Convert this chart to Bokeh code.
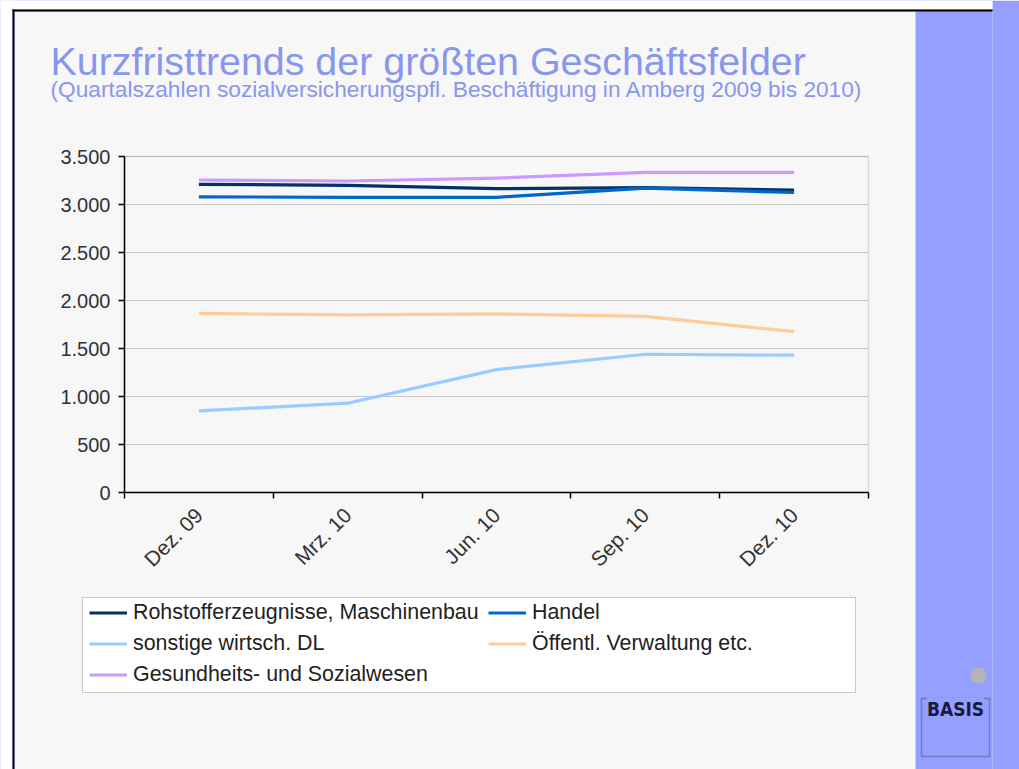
from math import pi
from bokeh.plotting import figure
from bokeh.models import (FactorRange, Range1d, LinearAxis, CategoricalAxis, FixedTicker,
                          Legend, LegendItem, Label, BoxAnnotation)
from bokeh.embed import file_html
from bokeh.resources import INLINE

# ---------------- data ----------------
quarters = ["Dez. 09", "Mrz. 10", "Jun. 10", "Sep. 10", "Dez. 10"]
rohstoff = [3210, 3200, 3165, 3175, 3150]
handel = [3080, 3075, 3075, 3170, 3125]
sonstige = [850, 930, 1280, 1440, 1430]
oeffentl = [1865, 1850, 1860, 1835, 1675]
gesundheit = [3255, 3245, 3275, 3335, 3335]
series_names = ["Rohstofferzeugnisse, Maschinenbau", "Handel", "sonstige wirtsch. DL",
                "Öffentl. Verwaltung etc.", "Gesundheits- und Sozialwesen"]
series_colors = ["#003366", "#0066cc", "#99ccff", "#ffcc99", "#cc99ff"]
y_ticks = [0, 500, 1000, 1500, 2000, 2500, 3000, 3500]
y_tick_labels = ["0", "500", "1.000", "1.500", "2.000", "2.500", "3.000", "3.500"]
title_text = "Kurzfristtrends der größten Geschäftsfelder"
subtitle_text = "(Quartalszahlen sozialversicherungspfl. Beschäftigung in Amberg 2009 bis 2010)"
logo_text = "BASIS"

# ---------------- layout constants (page pixels) ----------------
W, H = 1019, 769
PLOT_L, PLOT_R, PLOT_T, PLOT_B = 124, 868, 156, 492
Y_MAX = 3500
FRAME_W = PLOT_R + PLOT_L          # symmetric category padding
RIGHT_BORDER = W - FRAME_W
FONT = "Liberation Sans"
TITLE_COLOR = "#8896ee"
PANEL_BLUE = "#959fff"
SLIDE_BG = "#f7f7f7"

n_cat = len(quarters)
cat_px = (PLOT_R - PLOT_L) / n_cat
pad_frac = 2 * (PLOT_L / cat_px) / n_cat
y_per_px = Y_MAX / (PLOT_B - PLOT_T)

p = figure(width=W, height=H,
           x_range=FactorRange(factors=quarters, range_padding=pad_frac),
           y_range=Range1d(-(H - PLOT_B) * y_per_px, Y_MAX + PLOT_T * y_per_px),
           x_axis_location=None, y_axis_location="left",
           output_backend="svg", toolbar_location=None,
           min_border_left=0, min_border_top=0, min_border_bottom=0,
           min_border_right=RIGHT_BORDER,
           background_fill_color=PANEL_BLUE, border_fill_color=PANEL_BLUE,
           outline_line_color=None)


def pbox(x0, x1, y0, y1, **kw):
    """box given in page pixels (frame covers the page)"""
    return BoxAnnotation(left=x0, right=x1, top=H - y0, bottom=H - y1,
                         left_units="screen", right_units="screen",
                         top_units="screen", bottom_units="screen", **kw)


# ---------------- slide decorations ----------------
deco = dict(fill_alpha=1, line_alpha=0, level="image")
p.add_layout(pbox(14, 915, 11, H + 5, fill_color=SLIDE_BG, **deco))
p.add_layout(pbox(-5, 12, -5, H + 5, fill_color="white", **deco))
p.add_layout(pbox(-5, W + 5, -5, 9, fill_color="white", **deco))
p.add_layout(pbox(12, 14, 9, H + 5, fill_color="black", **deco))
p.add_layout(pbox(12, W + 5, 9, 11, fill_color="black", **deco))

# legend frame
p.add_layout(pbox(82, 855, 597, 692, fill_color="white", fill_alpha=1,
                  line_color="#555555", line_width=1, level="underlay"))

# plot-area border (top / right in grey)
p.add_layout(BoxAnnotation(left=0, right=n_cat, bottom=0, top=Y_MAX, fill_alpha=0,
                           line_color="#9a9a9a", line_width=1.5, level="underlay"))

# ---------------- axes ----------------
yt = FixedTicker(ticks=y_ticks)
p.yaxis.fixed_location = 0
p.yaxis.bounds = (0, Y_MAX)
p.yaxis.ticker = yt
p.yaxis.major_label_overrides = {t: l for t, l in zip(y_ticks, y_tick_labels)}
p.yaxis.axis_line_color = "black"
p.yaxis.axis_line_width = 1.5
p.yaxis.major_tick_out = 6
p.yaxis.major_tick_in = 0
p.yaxis.major_tick_line_color = "black"
p.yaxis.major_tick_line_width = 1.5
p.yaxis.minor_tick_line_color = None
p.yaxis.major_label_text_font = FONT
p.yaxis.major_label_text_font_size = "20px"
p.yaxis.major_label_text_color = "#333333"
p.yaxis.major_label_standoff = 8

p.xgrid.visible = False
p.ygrid.ticker = yt
p.ygrid.bounds = (0, Y_MAX)
p.ygrid.cross_bounds = (0, n_cat)
p.ygrid.grid_line_color = "#c8c8c8"
p.ygrid.grid_line_width = 1

edge_axis = LinearAxis(fixed_location=0, bounds=(0, n_cat),
                       ticker=FixedTicker(ticks=list(range(n_cat + 1))),
                       major_label_text_font_size="1px", major_label_text_alpha=0,
                       major_label_standoff=0,
                       major_tick_out=6, major_tick_in=0,
                       major_tick_line_color="black", major_tick_line_width=1.5,
                       minor_tick_line_color=None,
                       axis_line_color="black", axis_line_width=1.5)
p.add_layout(edge_axis, "below")
cat_axis = CategoricalAxis(fixed_location=0,
                           axis_line_color=None, major_tick_line_color=None,
                           minor_tick_line_color=None, major_tick_out=6,
                           major_label_orientation=pi / 4,
                           major_label_standoff=13,
                           major_label_text_font=FONT,
                           major_label_text_font_size="21px",
                           major_label_text_color="#333333")
p.add_layout(cat_axis, "below")

# ---------------- titles ----------------
p.add_layout(Label(x=50, y=H - 60, x_units="screen", y_units="screen",
                   text=title_text, text_font=FONT, text_font_size="39.4px",
                   text_color=TITLE_COLOR, text_baseline="alphabetic"))
p.add_layout(Label(x=50, y=H - 88, x_units="screen", y_units="screen",
                   text=subtitle_text, text_font=FONT, text_font_size="22.7px",
                   text_color=TITLE_COLOR, text_baseline="alphabetic"))

# ---------------- logo ----------------
p.add_layout(pbox(970, 986, 667, 683, fill_color="#b4b4b4", fill_alpha=1, line_alpha=0,
                  border_radius=8))
p.add_layout(pbox(921, 989, 698, 756, fill_alpha=0, line_color="#222222", line_width=1.5))
p.add_layout(Label(x=955, y=H - 708, x_units="screen", y_units="screen",
                   text=logo_text, text_align="center", text_baseline="alphabetic",
                   text_font="DejaVu Sans Condensed", text_font_style="bold",
                   text_font_size="19px", text_color="#1a1a40",
                   background_fill_color=PANEL_BLUE))

# ---------------- series ----------------
renderers = []
for vals, col in zip([rohstoff, handel, sonstige, oeffentl, gesundheit], series_colors):
    r = p.line(x=quarters, y=vals, line_color=col, line_width=3.2, line_join="round")
    renderers.append(r)

legend = Legend(items=[LegendItem(label=n, renderers=[r]) for n, r in zip(series_names, renderers)],
                location=(89, H - 687), orientation="horizontal", ncols=2,
                padding=0, margin=0, spacing=6,
                glyph_width=38, glyph_height=21, label_height=21, label_width=349,
                label_standoff=6,
                label_text_font=FONT, label_text_font_size="21.4px", label_text_color="#222222",
                border_line_alpha=0, background_fill_alpha=0)
p.add_layout(legend, "center")

open("out.html", "w").write(file_html(p, INLINE))
